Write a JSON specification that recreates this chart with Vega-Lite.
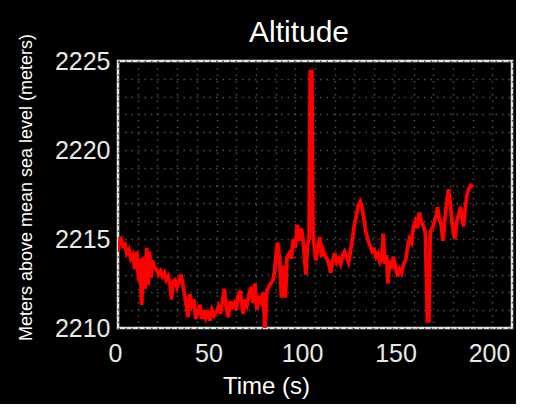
{
  "$schema": "https://vega.github.io/schema/vega-lite/v6.json",
  "autosize": {"type": "none"},
  "width": 394,
  "height": 267,
  "padding": {"left": 118, "top": 61, "right": 4, "bottom": 76},
  "background": "black",
  "title": {
    "text": "Altitude",
    "font": "Liberation Sans",
    "fontSize": 30,
    "fontWeight": "normal",
    "color": "white",
    "anchor": "middle",
    "frame": "group",
    "dx": -16,
    "dy": 39,
    "baseline": "alphabetic",
    "offset": 0
  },
  "config": {
    "view": {"stroke": "#e6e6e6", "strokeWidth": 2.5, "fill": "black"},
    "axis": {
      "labelFont": "Liberation Sans",
      "titleFont": "Liberation Sans",
      "labelColor": "#e8e8e8",
      "titleColor": "white",
      "titleFontWeight": "normal",
      "ticks": false,
      "domain": false,
      "grid": true,
      "gridColor": "#4e4e4e",
      "gridDash": [1.5, 5],
      "gridWidth": 1.5
    }
  },
  "data": {
    "values": [
      {"t": 0, "alt": 2214.3}, {"t": 0.7, "alt": 2214.9}, {"t": 1.5, "alt": 2215.0}, {"t": 2.5, "alt": 2214.6},
      {"t": 3.5, "alt": 2214.7}, {"t": 4.5, "alt": 2214.2}, {"t": 5.5, "alt": 2214.4}, {"t": 6.5, "alt": 2213.9},
      {"t": 7.5, "alt": 2214.1}, {"t": 8.5, "alt": 2213.3}, {"t": 9.5, "alt": 2214.3}, {"t": 10.5, "alt": 2212.6},
      {"t": 11.2, "alt": 2213.9}, {"t": 12, "alt": 2211.3}, {"t": 13, "alt": 2214.0}, {"t": 13.8, "alt": 2212.2},
      {"t": 14.6, "alt": 2214.5}, {"t": 15.3, "alt": 2212.4}, {"t": 16, "alt": 2214.3}, {"t": 16.8, "alt": 2212.8},
      {"t": 17.5, "alt": 2213.8}, {"t": 18.5, "alt": 2213.4}, {"t": 19.5, "alt": 2213.3}, {"t": 20.5, "alt": 2213.0},
      {"t": 21.5, "alt": 2213.2}, {"t": 22.5, "alt": 2212.9}, {"t": 23.5, "alt": 2213.1}, {"t": 24.5, "alt": 2212.7},
      {"t": 25.5, "alt": 2212.9}, {"t": 26.5, "alt": 2212.4}, {"t": 27.2, "alt": 2211.6}, {"t": 28, "alt": 2212.6},
      {"t": 29, "alt": 2212.7}, {"t": 30, "alt": 2212.3}, {"t": 31, "alt": 2212.6}, {"t": 32, "alt": 2213.0},
      {"t": 32.8, "alt": 2212.5}, {"t": 33.6, "alt": 2212.0}, {"t": 34.5, "alt": 2211.4}, {"t": 35.5, "alt": 2210.6},
      {"t": 36.5, "alt": 2211.9}, {"t": 37.5, "alt": 2211.3}, {"t": 38.5, "alt": 2211.6}, {"t": 39.5, "alt": 2210.5},
      {"t": 40.5, "alt": 2210.9}, {"t": 41.6, "alt": 2211.3}, {"t": 42.6, "alt": 2210.5}, {"t": 43.5, "alt": 2211.0},
      {"t": 44.5, "alt": 2210.6}, {"t": 45.5, "alt": 2211.0}, {"t": 46.7, "alt": 2210.4}, {"t": 47.7, "alt": 2211.0},
      {"t": 48.8, "alt": 2210.7}, {"t": 50, "alt": 2210.9}, {"t": 51, "alt": 2211.2}, {"t": 52, "alt": 2210.8},
      {"t": 53, "alt": 2211.5}, {"t": 54, "alt": 2212.2}, {"t": 55, "alt": 2211.1}, {"t": 56, "alt": 2210.6},
      {"t": 57, "alt": 2211.5}, {"t": 58, "alt": 2211.2}, {"t": 59, "alt": 2211.4}, {"t": 60, "alt": 2211.0},
      {"t": 61, "alt": 2211.8}, {"t": 62, "alt": 2212.1}, {"t": 63, "alt": 2211.2}, {"t": 63.5, "alt": 2210.8},
      {"t": 64.5, "alt": 2211.6}, {"t": 65.5, "alt": 2211.3}, {"t": 66.5, "alt": 2211.9}, {"t": 67.5, "alt": 2212.3},
      {"t": 68.5, "alt": 2211.4}, {"t": 69.5, "alt": 2212.5}, {"t": 70.5, "alt": 2211.0}, {"t": 71.5, "alt": 2211.8},
      {"t": 72.5, "alt": 2211.5}, {"t": 73.7, "alt": 2212.0}, {"t": 74.6, "alt": 2209.9}, {"t": 75.6, "alt": 2212.1},
      {"t": 76.5, "alt": 2212.3}, {"t": 77.5, "alt": 2212.5}, {"t": 78.7, "alt": 2212.7}, {"t": 79.5, "alt": 2213.2},
      {"t": 80.3, "alt": 2214.2}, {"t": 81, "alt": 2214.8}, {"t": 82, "alt": 2213.9}, {"t": 83, "alt": 2211.7},
      {"t": 84, "alt": 2213.5}, {"t": 85, "alt": 2211.7}, {"t": 85.8, "alt": 2214.0}, {"t": 87, "alt": 2214.2},
      {"t": 88, "alt": 2213.9}, {"t": 89, "alt": 2215.0}, {"t": 90, "alt": 2214.5}, {"t": 91, "alt": 2215.8},
      {"t": 92, "alt": 2214.9}, {"t": 93, "alt": 2215.6}, {"t": 94, "alt": 2214.9}, {"t": 95.4, "alt": 2213.0},
      {"t": 96.2, "alt": 2214.7}, {"t": 97, "alt": 2215.0}, {"t": 97.6, "alt": 2224.4}, {"t": 98.4, "alt": 2224.4},
      {"t": 99, "alt": 2215.3}, {"t": 99.8, "alt": 2214.4}, {"t": 100.5, "alt": 2213.8}, {"t": 101.5, "alt": 2214.6},
      {"t": 102.5, "alt": 2215.1}, {"t": 103.3, "alt": 2214.0}, {"t": 104, "alt": 2214.4}, {"t": 105, "alt": 2214.1},
      {"t": 106, "alt": 2213.9}, {"t": 107, "alt": 2213.6}, {"t": 108, "alt": 2213.1}, {"t": 109, "alt": 2213.8},
      {"t": 110, "alt": 2214.2}, {"t": 111, "alt": 2213.7}, {"t": 112, "alt": 2213.9}, {"t": 113, "alt": 2213.6},
      {"t": 114, "alt": 2214.1}, {"t": 115, "alt": 2214.3}, {"t": 116, "alt": 2214.0}, {"t": 117, "alt": 2213.7},
      {"t": 118, "alt": 2214.3}, {"t": 119, "alt": 2215.0}, {"t": 120, "alt": 2215.8}, {"t": 121, "alt": 2216.3},
      {"t": 122, "alt": 2216.9}, {"t": 123, "alt": 2217.1}, {"t": 124, "alt": 2216.7}, {"t": 125, "alt": 2216.0},
      {"t": 126, "alt": 2215.3}, {"t": 127, "alt": 2214.9}, {"t": 128, "alt": 2214.6}, {"t": 129, "alt": 2214.3},
      {"t": 130, "alt": 2214.4}, {"t": 131, "alt": 2214.0}, {"t": 132, "alt": 2214.2}, {"t": 133, "alt": 2213.7},
      {"t": 134, "alt": 2213.9}, {"t": 134.6, "alt": 2215.3}, {"t": 135.5, "alt": 2213.6}, {"t": 136.3, "alt": 2214.1},
      {"t": 137, "alt": 2212.5}, {"t": 138, "alt": 2213.8}, {"t": 139, "alt": 2213.3}, {"t": 139.8, "alt": 2214.0},
      {"t": 141, "alt": 2213.4}, {"t": 142, "alt": 2212.9}, {"t": 143, "alt": 2213.3}, {"t": 144, "alt": 2213.1},
      {"t": 145, "alt": 2213.6}, {"t": 146, "alt": 2213.8}, {"t": 147, "alt": 2214.5}, {"t": 148, "alt": 2215.0},
      {"t": 149, "alt": 2214.8}, {"t": 150, "alt": 2215.7}, {"t": 151, "alt": 2216.0}, {"t": 152, "alt": 2215.6},
      {"t": 153, "alt": 2216.5}, {"t": 154, "alt": 2216.0}, {"t": 155, "alt": 2215.7}, {"t": 156, "alt": 2215.4},
      {"t": 157.1, "alt": 2210.4}, {"t": 157.8, "alt": 2210.4}, {"t": 158.5, "alt": 2215.4}, {"t": 159.5, "alt": 2215.6},
      {"t": 160.5, "alt": 2215.9}, {"t": 161.5, "alt": 2216.3}, {"t": 162.2, "alt": 2216.8}, {"t": 163, "alt": 2216.2},
      {"t": 164, "alt": 2215.8}, {"t": 165, "alt": 2214.9}, {"t": 166, "alt": 2216.2}, {"t": 167, "alt": 2217.2},
      {"t": 167.8, "alt": 2217.8}, {"t": 168.5, "alt": 2217.2}, {"t": 169.5, "alt": 2216.0}, {"t": 170.3, "alt": 2215.3},
      {"t": 171, "alt": 2215.0}, {"t": 172, "alt": 2216.0}, {"t": 173, "alt": 2216.4}, {"t": 173.8, "alt": 2216.8},
      {"t": 174.6, "alt": 2216.2}, {"t": 175.3, "alt": 2215.7}, {"t": 176.2, "alt": 2216.6}, {"t": 177, "alt": 2217.4},
      {"t": 178, "alt": 2217.8}, {"t": 179, "alt": 2218.0}, {"t": 180, "alt": 2217.9}
    ]
  },
  "mark": {"type": "line", "color": "#ff0000", "strokeWidth": 3.8, "clip": true},
  "encoding": {
    "x": {
      "field": "t",
      "type": "quantitative",
      "scale": {"domain": [0, 200], "nice": false, "zero": false},
      "axis": {
        "values": [0, 10, 20, 30, 40, 50, 60, 70, 80, 90, 100, 110, 120, 130, 140, 150, 160, 170, 180, 190, 200],
        "labelExpr": "datum.value % 50 === 0 ? datum.label : ''",
        "labelFontSize": 25,
        "labelPadding": 13,
        "labelOffset": {"expr": "-3 - datum.value * 0.1"},
        "labelFlush": false,
        "labelOverlap": false,
        "title": "Time (s)",
        "titleFontSize": 24,
        "titleX": 148,
        "titleY": 65,
        "titleBaseline": "alphabetic",
        "titleAnchor": "middle"
      }
    },
    "y": {
      "field": "alt",
      "type": "quantitative",
      "scale": {"domain": [2210, 2225], "nice": false, "zero": false},
      "axis": {
        "values": [2210, 2211, 2212, 2213, 2214, 2215, 2216, 2217, 2218, 2219, 2220, 2221, 2222, 2223, 2224, 2225],
        "labelExpr": "datum.value % 5 === 0 ? datum.label : ''",
        "format": "d",
        "labelFontSize": 25,
        "labelPadding": 8,
        "labelFlush": false,
        "labelOverlap": false,
        "title": "Meters above mean sea level (meters)",
        "titleFontSize": 18,
        "titleX": -92,
        "titleY": 126,
        "titleBaseline": "middle",
        "titleAnchor": "middle"
      }
    }
  }
}
